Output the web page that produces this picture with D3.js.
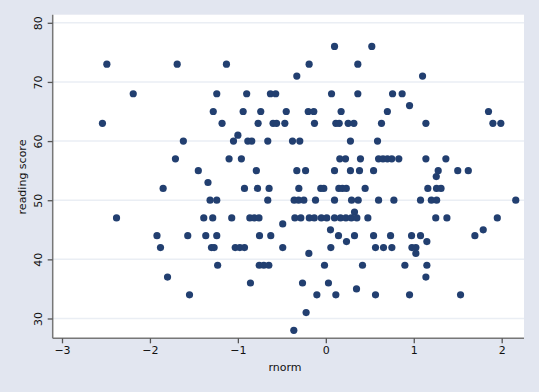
<!DOCTYPE html>
<html><head><meta charset="utf-8">
<script src="https://cdn.jsdelivr.net/npm/d3@7"></script>
<style>body{margin:0;background:#e2e6f0;}svg{display:block;}</style>
</head><body>
<script>
// rnorm values (x) and reading scores (y)
const rnorm = [
-2.49,-2.19,-2.54,-1.69,-1.13,-1.24,-0.90,-1.28,-0.94,-1.18,-1.00,-1.62,-1.05,-0.887,-0.842,-1.71,-1.10,-0.96,-1.45,-1.34,-1.85,-0.925,
0.099,-0.19,-0.33,-0.63,-0.57,0.065,-0.74,-0.45,-0.20,-0.137,0.174,-0.77,-0.60,-0.56,-0.466,-0.129,0.114,0.152,0.254,0.319,-0.66,-0.379,-0.296,0.159,0.224,-0.79,-0.33,-0.23,0.099,
0.523,0.364,1.10,0.364,0.759,0.868,0.952,0.70,0.633,1.138,0.28,0.588,0.394,0.60,0.65,0.70,0.75,0.83,1.138,0.28,0.383,0.543,1.278,1.256,1.365,1.50,1.62,1.85,1.90,1.99,
-2.38,-0.777,-0.645,-0.307,-0.057,-0.023,0.148,0.188,0.233,0.447,1.16,1.259,1.31,-1.316,-1.24,-0.66,-0.36,-0.31,-0.25,-0.117,0.099,0.293,0.368,0.60,0.774,1.077,1.20,1.26,2.16,
0.326,-1.388,-1.286,-1.07,-0.864,-0.813,-0.76,-0.49,-0.352,-0.284,-0.188,-0.131,-0.051,0.011,0.099,0.167,0.228,0.290,0.353,0.478,1.25,1.377,1.95,1.79,1.695,0.053,
-1.92,-1.57,-1.365,-1.24,-0.754,-0.626,0.144,0.235,0.326,0.543,0.736,0.975,1.077,1.149,-1.88,-1.30,-1.27,-1.03,-0.978,-0.925,-0.49,-0.193,0.057,0.565,0.656,0.751,0.979,1.024,1.024,
-1.23,-0.757,-0.705,-0.648,-0.015,0.417,0.899,1.149,1.138,-1.80,-0.857,-0.265,0.03,0.349,-1.55,-0.102,0.114,0.565,0.952,1.532,-0.224,-0.364
];
const read = [
73,68,63,73,73,68,68,65,65,63,61,60,60,60,60,57,57,57,55,53,52,52,
76,73,71,68,68,68,65,65,65,65,65,63,63,63,63,63,63,63,63,63,60,60,60,57,57,55,55,55,55,
76,73,71,68,68,68,66,65,63,63,60,60,57,57,57,57,57,57,57,55,55,55,55,54,57,55,55,65,63,63,
47,52,52,52,52,52,52,52,52,52,52,52,52,50,50,50,50,50,50,50,50,50,50,50,50,50,50,50,50,
48,47,47,47,47,47,47,46,47,47,47,47,47,47,47,47,47,47,47,47,47,47,47,45,44,45,
44,44,44,44,44,44,44,43,44,44,44,44,44,43,42,42,42,42,42,42,42,41,42,42,42,42,42,42,41,
39,39,39,39,39,39,39,39,37,37,36,36,36,35,34,34,34,34,34,34,31,28
];
const xTicks = [-3,-2,-1,0,1,2];
const yTicks = [30,40,50,60,70,80];

const W = 539, H = 392;
const svg = d3.select("body").append("svg").attr("width", W).attr("height", H);
svg.append("rect").attr("width", W).attr("height", H).attr("fill", "#e2e6f0");

const x = d3.scaleLinear().domain([-3, 2]).range([62, 501.7]);
const y = d3.scaleLinear().domain([30, 80]).range([318.5, 22.8]);
const pLeft = 52.7, pRight = 524, pTop = 14.7, pBottom = 338.3;

svg.append("rect").attr("x", pLeft).attr("y", pTop).attr("width", pRight - pLeft).attr("height", pBottom - pTop).attr("fill", "#ffffff");

// gridlines
svg.append("g").selectAll("line").data(yTicks).join("line")
  .attr("x1", pLeft).attr("x2", pRight)
  .attr("y1", d => y(d)).attr("y2", d => y(d))
  .attr("stroke", "#eaeef4").attr("stroke-width", 1.5);

const font = "DejaVu Sans, sans-serif";

// axes
const xAxis = d3.axisBottom(x).tickValues(xTicks).tickSize(5).tickPadding(3).tickFormat(d3.format("d"));
const gx = svg.append("g").attr("transform", `translate(0,${pBottom})`).call(xAxis);
gx.select(".domain").attr("d", `M${pLeft},0H${pRight}`).attr("stroke", "#777").attr("stroke-width", 1.5);
gx.selectAll(".tick line").attr("stroke", "#555").attr("stroke-width", 1.3);
gx.selectAll("text").attr("fill", "#111").style("font-family", font).style("font-size", "11px");

const yAxis = d3.axisLeft(y).tickValues(yTicks).tickSize(5).tickFormat(d3.format("d"));
const gy = svg.append("g").attr("transform", `translate(${pLeft},0)`).call(yAxis);
gy.select(".domain").attr("d", `M0,${pTop}V${pBottom}`).attr("stroke", "#777").attr("stroke-width", 1.5);
gy.selectAll(".tick line").attr("stroke", "#555").attr("stroke-width", 1.3);
gy.selectAll("text").attr("fill", "#111").style("font-family", font).style("font-size", "11px")
  .attr("x", null).attr("dy", null)
  .attr("text-anchor", "middle")
  .attr("transform", "translate(-11,0) rotate(-90)")
  .attr("y", 0).attr("dy", "0");

// points
svg.append("g").selectAll("circle").data(rnorm.map((v, i) => [v, read[i]])).join("circle")
  .attr("cx", d => x(d[0])).attr("cy", d => y(d[1])).attr("r", 3.6)
  .attr("fill", "#223f70");

// axis titles
svg.append("text").attr("x", 285).attr("y", 371).attr("text-anchor", "middle")
  .style("font-family", font).style("font-size", "11px").attr("fill", "#111").text("rnorm");
svg.append("text").attr("transform", "translate(26,177) rotate(-90)").attr("text-anchor", "middle")
  .style("font-family", font).style("font-size", "11px").attr("fill", "#111").text("reading score");
</script>
</body></html>
